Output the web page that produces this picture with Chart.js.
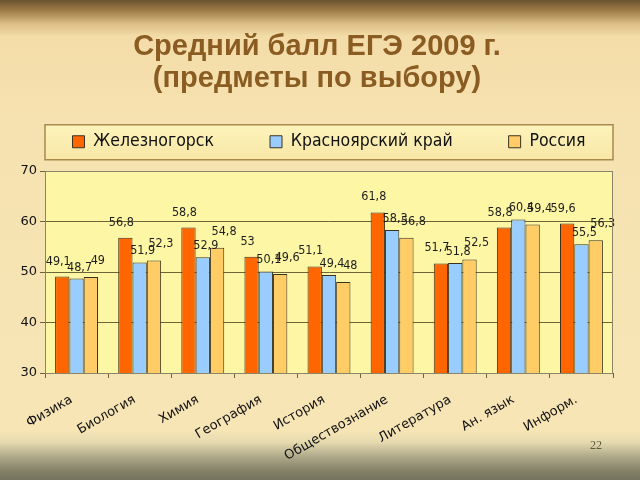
<!DOCTYPE html>
<html>
<head>
<meta charset="utf-8">
<script src="https://cdn.jsdelivr.net/npm/chart.js@4"></script>
<style>
html,body{margin:0;padding:0;}
body{width:640px;height:480px;overflow:hidden;position:relative;
background:linear-gradient(to bottom,#6a5230 0px,#9c7a45 10px,#dcbf86 24px,#f3dca8 36px,#f6e2b0 120px,#f7e5b6 430px,#e6dbb0 442px,#b2ab8c 456px,#86836a 470px,#74725c 480px);}
#wrap{position:absolute;left:0;top:0;width:640px;height:480px;}
#pg{position:absolute;left:590px;top:438px;font:12px "Liberation Serif",serif;color:#5e5a40;}
</style>
</head>
<body>
<div id="wrap"><canvas id="c" width="640" height="480"></canvas></div>
<div id="pg">22</div>
<script>
const titleLines = ["Средний балл ЕГЭ 2009 г.", "(предметы по выбору)"];
const categories = ["Физика","Биология","Химия","География","История","Обществознание","Литература","Ан. язык","Информ."];
const seriesNames = ["Железногорск","Красноярский край","Россия"];
const zheleznogorsk = [49.1,56.8,58.8,53,51.1,61.8,51.7,58.8,59.6];
const krasnoyarsk = [48.7,51.9,52.9,50.1,49.4,58.3,51.8,60.4,55.5];
const russia = [49,52.3,54.8,49.6,48,56.8,52.5,59.4,56.3];
const yTicks = [30,40,50,60,70];

const colors = ["#ff6600","#99ccff","#ffcc66"];
const labelDx = [-4,3,7];
const labelGap = [9,5,10];
const olive = "#6f6438";
const LEG_PAD = 56;
const LEG_FONT = 17.5;
const LEG_CY = 142;
const PLOT_TOP = 171;
const LEG_TOP = Math.round(LEG_CY - LEG_PAD - LEG_FONT/2);

const bgPlugin = {
  id:'bg',
  beforeDraw(chart){
    const {ctx, chartArea:a} = chart;
    ctx.save();
    ctx.fillStyle = '#8b5c22';
    ctx.font = 'bold 29px "Liberation Sans",Arial,sans-serif';
    ctx.textAlign = 'center'; ctx.textBaseline = 'middle';
    ctx.fillText(titleLines[0], 317, 47);
    ctx.fillText(titleLines[1], 317, 79);
    const lg = chart.legend;
    const cy = lg.top + LEG_PAD + LEG_FONT/2;
    const grd = ctx.createLinearGradient(0, cy-17, 0, cy+18);
    grd.addColorStop(0,'#fdf3bb'); grd.addColorStop(1,'#f8e7a6');
    ctx.fillStyle = grd;
    ctx.fillRect(a.left, cy-17, a.right-a.left, 35);
    ctx.strokeStyle = '#a88a4c'; ctx.lineWidth = 1.5;
    ctx.strokeRect(a.left, cy-17, a.right-a.left, 35);
    ctx.fillStyle = '#fdf6a4';
    ctx.fillRect(a.left, a.top, a.right-a.left, a.bottom-a.top);
    ctx.restore();
  },
  afterDraw(chart){
    const {ctx, chartArea:a} = chart;
    ctx.save();
    ctx.strokeStyle = '#8a8468'; ctx.lineWidth = 1;
    ctx.strokeRect(a.left+0.5, a.top+0.5, a.right-a.left-1, a.bottom-a.top);
    ctx.restore();
  },
  afterDatasetsDraw(chart){
    const ctx = chart.ctx;
    ctx.save();
    ctx.font = '12.5px "DejaVu Sans Condensed","DejaVu Sans",sans-serif';
    ctx.fillStyle = '#1e1e1e';
    ctx.textAlign = 'center';
    ctx.textBaseline = 'bottom';
    chart.data.datasets.forEach((ds, i) => {
      const meta = chart.getDatasetMeta(i);
      meta.data.forEach((el, j) => {
        const txt = String(ds.data[j]).replace('.', ',');
        ctx.fillText(txt, el.x + labelDx[i], el.y - labelGap[i]);
      });
    });
    ctx.restore();
  },
  afterInit(chart){
    const lg = chart.legend;
    const origFit = lg.fit;
    lg.fit = function(){
      const mw = this.maxWidth;
      this.maxWidth = 5000;
      origFit.call(this);
      this.maxWidth = mw;
      this.width = mw;
      this.height = PLOT_TOP - LEG_TOP;
    };
  },
  afterLayout(chart){
    const lg = chart.legend;
    lg.left -= 150; lg.right += 150; lg.width += 300;
  }
};

new Chart(document.getElementById('c'), {
  type:'bar',
  data:{
    labels: categories,
    datasets:[
      {label:seriesNames[0], data:zheleznogorsk, backgroundColor:colors[0]},
      {label:seriesNames[1], data:krasnoyarsk, backgroundColor:colors[1]},
      {label:seriesNames[2], data:russia, backgroundColor:colors[2]}
    ].map(d => Object.assign(d, {borderColor:'#3a3220', borderWidth:1, categoryPercentage:0.68, barPercentage:1}))
  },
  options:{
    responsive:false, animation:false,
    devicePixelRatio:1,
    layout:{padding:{left:18,right:0,top:LEG_TOP,bottom:0}},
    plugins:{
      title:{display:false},
      legend:{display:true, position:'top',
        labels:{boxWidth:12, boxHeight:12, padding:LEG_PAD, color:'#111',
          font:{family:'"DejaVu Sans Condensed","DejaVu Sans",sans-serif', size:LEG_FONT}}},
      tooltip:{enabled:false}
    },
    scales:{
      x:{
        afterFit(s){ s.height = 107; },
        grid:{display:true, drawOnChartArea:false, offset:true, tickLength:5, color:olive},
        border:{display:true, color:olive},
        ticks:{autoSkip:false, maxRotation:30, minRotation:30, padding:14, labelOffset:-5, color:'#111',
          font:{family:'"DejaVu Sans","Verdana",sans-serif', size:13}}
      },
      y:{
        min:30, max:70,
        afterFit(s){ s.width = 27; },
        afterBuildTicks(s){ s.ticks = yTicks.map(v => ({value:v})); },
        grid:{color:olive, tickLength:5, lineWidth:1},
        border:{display:true, color:olive},
        ticks:{padding:3, color:'#111',
          font:{family:'"DejaVu Sans","Verdana",sans-serif', size:13}}
      },
      yr:{
        position:'right', min:30, max:70,
        afterFit(s){ s.width = 27; },
        grid:{display:false, drawOnChartArea:false},
        border:{display:false},
        ticks:{display:false}
      }
    }
  },
  plugins:[bgPlugin]
});
</script>
</body>
</html>
